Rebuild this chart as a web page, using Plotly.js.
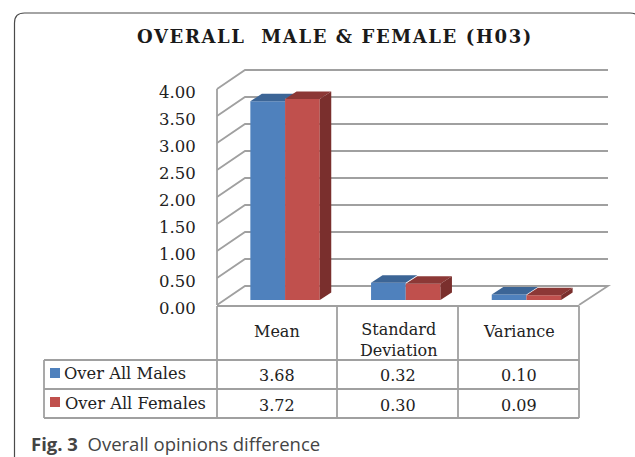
<!DOCTYPE html>
<html>
<head>
<meta charset="utf-8">
<script src="https://cdn.plot.ly/plotly-3.0.1.min.js"></script>
<style>html,body{margin:0;padding:0;background:#fff}#chart{width:635px;height:457px}.gtitle{letter-spacing:1.6px}</style>
</head>
<body>
<div id="chart"></div>
<script>
var categories = ['Mean', 'Standard<br>Deviation', 'Variance'];
var seriesNames = ['Over All Males', 'Over All Females'];
var males = [3.68, 0.32, 0.10];
var females = [3.72, 0.30, 0.09];
var tickValues = [0, 0.5, 1, 1.5, 2, 2.5, 3, 3.5, 4];
var tickLabels = ['0.00', '0.50', '1.00', '1.50', '2.00', '2.50', '3.00', '3.50', '4.00'];
var titleText = 'OVERALL\u00a0 MALE & FEMALE (H03)';
var captionBold = 'Fig. 3';
var captionText = 'Overall opinions difference';

var W = 635, H = 457;
var X0 = 217, CW = 120.7, Y0 = 305, PU = 54;
function dx(px) { return (px - X0) / CW - 0.5; }
function dy(py) { return (Y0 - py) / PU; }
function pw(px) { return px / CW; }
function ph(px) { return px / PU; }
function nx(px) { return px / W; }
function ny(py) { return 1 - py / H; }

var GRID = '#a0a0a0';
var BLUE = '#4f81bd', RED = '#c0504d', BLUE_TOP = '#3c6596', RED_TOP = '#8c3836', RED_SIDE = '#7a2f2d';
var SERIF = '"DejaVu Serif", serif';

var wallDX = pw(28), wallDY = ph(19);
var wallL = dx(217), wallR = dx(608);
var floorR = dx(579);
var barBase = ph(5);
var barW = pw(34.7), depthX = pw(11.5), depthY = ph(7.5);
var groupOff = pw(7.7);

var shapes = [];
function line(path, col, w) {
  shapes.push({ type: 'path', xref: 'x', yref: 'y', layer: 'below', path: path, line: { color: col, width: w } });
}
tickValues.forEach(function (v) {
  if (v > 0) {
    line('M' + wallL + ',' + v + ' L' + (wallL + wallDX) + ',' + (v + wallDY) + ' L' + wallR + ',' + (v + wallDY), GRID, 1.8);
  }
});
line('M' + wallL + ',0 L' + (wallL + wallDX) + ',' + wallDY + ' L' + wallR + ',' + wallDY + ' L' + floorR + ',0', GRID, 1.8);
line('M' + wallL + ',0 L' + wallL + ',4', GRID, 1.8);

function seg(x1, y1, x2, y2) {
  shapes.push({ type: 'line', xref: 'paper', yref: 'paper', x0: nx(x1), x1: nx(x2), y0: ny(y1), y1: ny(y2), layer: 'below', line: { color: GRID, width: 1.8 } });
}
seg(217, 306, 579, 306);
seg(44, 360, 579, 360);
seg(44, 389, 579, 389);
seg(44, 418, 579, 418);
seg(44, 360, 44, 418);
seg(217, 306, 217, 418);
seg(337, 306, 337, 418);
seg(458, 306, 458, 418);
seg(579, 306, 579, 418);

[[368, BLUE], [397, RED]].forEach(function (k) {
  shapes.push({ type: 'rect', xref: 'paper', yref: 'paper', x0: nx(50), x1: nx(60), y0: ny(k[0]), y1: ny(k[0] + 10), fillcolor: k[1], line: { width: 0 } });
});

var L = 14.5, T = 13, R = 640, B = 457, RAD = 10;
shapes.push({
  type: 'path', xref: 'paper', yref: 'paper', layer: 'below',
  path: 'M' + nx(L) + ',' + ny(B) + ' L' + nx(L) + ',' + ny(T + RAD) + ' Q' + nx(L) + ',' + ny(T) + ' ' + nx(L + RAD) + ',' + ny(T) +
    ' L' + nx(R - RAD) + ',' + ny(T) + ' Q' + nx(R) + ',' + ny(T) + ' ' + nx(R) + ',' + ny(T + RAD),
  line: { color: '#4a4a4a', width: 1.2 }
});

var traces = [];
traces.push({
  type: 'bar', name: seriesNames[0], x: [0, 1, 2], y: males, base: barBase,
  width: barW, offset: groupOff - barW, marker: { color: BLUE, line: { width: 0 } }
});
traces.push({
  type: 'bar', name: seriesNames[1], x: [0, 1, 2], y: females, base: barBase,
  width: barW, offset: groupOff, marker: { color: RED, line: { width: 0 } }
});

function poly(xs, ys, col) {
  traces.push({ type: 'scatter', mode: 'lines', x: xs, y: ys, fill: 'toself', fillcolor: col, line: { width: 0, color: col }, hoverinfo: 'skip' });
}
males.forEach(function (v, i) {
  var xa = i + groupOff - barW, xb = i + groupOff, top = barBase + v, rtop = barBase + females[i];
  var kink = Math.max(top, rtop);
  poly([xa, xb, xb, xb + depthX, xa + depthX, xa], [top, top, kink, top + depthY, top + depthY, top], BLUE_TOP);
});
females.forEach(function (v, i) {
  var xa = i + groupOff, xb = xa + barW, top = barBase + v;
  poly([xa, xb, xb + depthX, xa + depthX, xa], [top, top, top + depthY, top + depthY, top], RED_TOP);
  poly([xb, xb + depthX, xb + depthX, xb, xb], [barBase, barBase + depthY, top + depthY, top, barBase], RED_SIDE);
});

var annotations = [];
function note(text, px, py, size, anchor, color, font) {
  annotations.push({
    xref: 'paper', yref: 'paper', x: nx(px), y: ny(py), text: text, showarrow: false,
    xanchor: anchor || 'center', yanchor: 'middle', align: 'center',
    font: { family: font || SERIF, size: size, color: color || '#222222' }
  });
}
var colCentre = [277, 398, 518.5];
categories.forEach(function (c, i) {
  note(c, colCentre[i], i === 1 ? 340 : 331, 16);
  note(males[i].toFixed(2), colCentre[i], 375.5, 16);
  note(females[i].toFixed(2), colCentre[i], 405, 16);
});
note(seriesNames[0], 62, 373.5, 16.3, 'left');
note(seriesNames[1], 63, 403, 16.3, 'left');
note('<b>' + captionBold + '</b>\u00a0 ' + captionText, 29, 443, 18.5, 'left', '#444444', '"Open Sans", sans-serif');

var layout = {
  width: W, height: H, margin: { l: 0, r: 0, t: 0, b: 0 },
  paper_bgcolor: '#ffffff', plot_bgcolor: 'rgba(0,0,0,0)', showlegend: false,
  barmode: 'overlay',
  title: {
    text: '<b>' + titleText + '</b>', x: nx(335), xanchor: 'center', y: ny(37), yanchor: 'middle',
    font: { family: SERIF, size: 18, color: '#1a1a1a' }
  },
  xaxis: { range: [dx(0), dx(W)], visible: false, fixedrange: true },
  yaxis: {
    range: [dy(H), dy(0)], anchor: 'free', position: nx(217), tickmode: 'array',
    tickvals: tickValues, ticktext: tickLabels, showgrid: false, zeroline: false, showline: false,
    ticks: 'outside', ticklen: 18, tickcolor: 'rgba(0,0,0,0)', ticklabelshift: 3,
    tickfont: { family: SERIF, size: 16.5, color: '#222222' }, fixedrange: true
  },
  shapes: shapes, annotations: annotations
};
Plotly.newPlot('chart', traces, layout, { displayModeBar: false, staticPlot: true });
</script>
</body>
</html>
